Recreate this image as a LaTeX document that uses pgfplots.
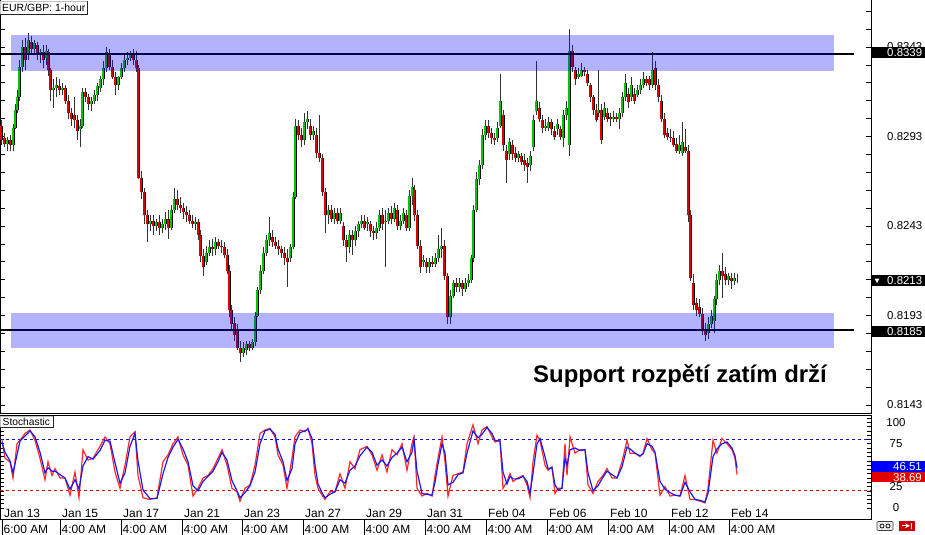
\documentclass[border=0pt]{standalone}
\usepackage{fontspec}
\setmainfont{Liberation Sans}
\usepackage{pgfplots}
\usepackage{pgfplotstable}
\pgfplotsset{compat=1.18}
\definecolor{upg}{RGB}{0,200,0}
\definecolor{dnr}{RGB}{225,0,0}
\definecolor{band}{RGB}{0,0,255}
\definecolor{stred}{RGB}{255,40,40}
\definecolor{stblue}{RGB}{25,25,255}

\pgfplotstableread{
x o c h l
1 0.8299 0.8291 0.8302 0.8288
4 0.8292 0.8289 0.8295 0.8287
7 0.8289 0.8291 0.8293 0.8285
10 0.8291 0.8288 0.8294 0.8285
13 0.8288 0.8298 0.8300 0.8285
15 0.8298 0.8308 0.8311 0.8297
17 0.8308 0.8315 0.8319 0.8306
19 0.8315 0.8332 0.8336 0.8313
22 0.8332 0.8343 0.8347 0.8329
25 0.8343 0.8336 0.8348 0.8330
28 0.8339 0.8347 0.8351 0.8336
31 0.8346 0.8342 0.8349 0.8339
34 0.8342 0.8345 0.8347 0.8339
37 0.8344 0.8339 0.8346 0.8336
40 0.8339 0.8340 0.8342 0.8334
43 0.8340 0.8336 0.8344 0.8331
46 0.8337 0.8341 0.8344 0.8333
48 0.8340 0.8330 0.8342 0.8327
50 0.8330 0.8319 0.8331 0.8313
53 0.8319 0.8320 0.8325 0.8309
56 0.8320 0.8322 0.8326 0.8315
59 0.8321 0.8319 0.8325 0.8316
62 0.8319 0.8320 0.8323 0.8316
65 0.8320 0.8313 0.8322 0.8311
68 0.8313 0.8306 0.8316 0.8303
71 0.8306 0.8303 0.8309 0.8299
74 0.8305 0.8302 0.8315 0.8298
77 0.8302 0.8296 0.8305 0.8291
80 0.8297 0.8299 0.8303 0.8287
82 0.8299 0.8318 0.8320 0.8298
85 0.8318 0.8315 0.8320 0.8312
88 0.8315 0.8311 0.8317 0.8308
91 0.8311 0.8313 0.8315 0.8307
94 0.8313 0.8316 0.8319 0.8311
97 0.8316 0.8321 0.8323 0.8313
100 0.8320 0.8325 0.8327 0.8318
103 0.8325 0.8331 0.8335 0.8322
106 0.8331 0.8340 0.8343 0.8329
109 0.8339 0.8332 0.8342 0.8330
112 0.8332 0.8326 0.8336 0.8325
115 0.8326 0.8322 0.8329 0.8316
118 0.8322 0.8326 0.8327 0.8319
121 0.8326 0.8331 0.8334 0.8325
124 0.8331 0.8336 0.8339 0.8329
127 0.8336 0.8337 0.8340 0.8333
130 0.8337 0.8339 0.8341 0.8335
133 0.8339 0.8336 0.8342 0.8333
136 0.8336 0.8331 0.8341 0.8329
138 0.8331 0.8270 0.8333 0.8269
141 0.8270 0.8262 0.8274 0.8258
144 0.8262 0.8249 0.8264 0.8244
147 0.8249 0.8244 0.8252 0.8234
150 0.8244 0.8246 0.8249 0.8240
153 0.8246 0.8243 0.8249 0.8238
156 0.8243 0.8245 0.8247 0.8240
159 0.8245 0.8242 0.8249 0.8238
162 0.8242 0.8244 0.8247 0.8239
165 0.8244 0.8247 0.8251 0.8241
168 0.8247 0.8242 0.8252 0.8236
171 0.8242 0.8252 0.8255 0.8241
174 0.8252 0.8258 0.8264 0.8250
177 0.8258 0.8255 0.8263 0.8252
180 0.8255 0.8253 0.8259 0.8250
183 0.8253 0.8251 0.8256 0.8247
186 0.8251 0.8249 0.8254 0.8245
189 0.8249 0.8246 0.8252 0.8244
192 0.8246 0.8244 0.8249 0.8242
195 0.8244 0.8245 0.8248 0.8241
198 0.8245 0.8238 0.8247 0.8235
200 0.8238 0.8226 0.8241 0.8223
203 0.8226 0.8220 0.8230 0.8215
206 0.8223 0.8228 0.8232 0.8221
209 0.8228 0.8231 0.8235 0.8226
212 0.8231 0.8230 0.8236 0.8226
215 0.8230 0.8234 0.8237 0.8227
218 0.8234 0.8232 0.8236 0.8230
221 0.8232 0.8231 0.8235 0.8228
224 0.8231 0.8227 0.8234 0.8225
227 0.8227 0.8218 0.8230 0.8216
229 0.8218 0.8196 0.8221 0.8192
231 0.8196 0.8188 0.8199 0.8185
234 0.8189 0.8182 0.8192 0.8179
237 0.8185 0.8175 0.8188 0.8174
240 0.8175 0.8172 0.8179 0.8167
243 0.8172 0.8175 0.8178 0.8170
246 0.8174 0.8177 0.8179 0.8171
249 0.8177 0.8175 0.8179 0.8173
252 0.8175 0.8178 0.8180 0.8174
255 0.8178 0.8193 0.8195 0.8176
257 0.8193 0.8207 0.8209 0.8192
260 0.8207 0.8218 0.8221 0.8205
263 0.8218 0.8228 0.8231 0.8216
266 0.8228 0.8235 0.8238 0.8226
269 0.8235 0.8239 0.8248 0.8232
272 0.8237 0.8234 0.8241 0.8231
275 0.8234 0.8232 0.8237 0.8230
278 0.8232 0.8230 0.8235 0.8227
281 0.8230 0.8228 0.8232 0.8225
284 0.8228 0.8225 0.8231 0.8221
287 0.8225 0.8223 0.8230 0.8209
290 0.8225 0.8231 0.8233 0.8223
293 0.8231 0.8259 0.8262 0.8230
295 0.8259 0.8299 0.8303 0.8258
298 0.8299 0.8294 0.8302 0.8291
301 0.8294 0.8291 0.8298 0.8287
304 0.8291 0.8301 0.8306 0.8288
307 0.8301 0.8303 0.8307 0.8297
310 0.8299 0.8294 0.8303 0.8291
313 0.8294 0.8296 0.8299 0.8291
316 0.8294 0.8284 0.8298 0.8281
319 0.8284 0.8281 0.8305 0.8279
322 0.8281 0.8262 0.8283 0.8260
325 0.8262 0.8249 0.8264 0.8239
328 0.8249 0.8252 0.8255 0.8244
331 0.8252 0.8247 0.8255 0.8245
334 0.8247 0.8250 0.8253 0.8244
337 0.8250 0.8246 0.8253 0.8244
340 0.8246 0.8250 0.8253 0.8244
343 0.8243 0.8235 0.8245 0.8232
346 0.8235 0.8231 0.8238 0.8223
349 0.8231 0.8238 0.8241 0.8228
352 0.8238 0.8235 0.8241 0.8227
355 0.8235 0.8240 0.8243 0.8232
358 0.8240 0.8244 0.8246 0.8237
361 0.8244 0.8246 0.8249 0.8242
364 0.8246 0.8242 0.8249 0.8241
367 0.8244 0.8245 0.8248 0.8240
370 0.8244 0.8240 0.8246 0.8237
373 0.8240 0.8239 0.8243 0.8235
376 0.8239 0.8242 0.8245 0.8236
379 0.8242 0.8249 0.8252 0.8240
382 0.8249 0.8244 0.8253 0.8241
385 0.8245 0.8246 0.8252 0.8220
388 0.8246 0.8250 0.8253 0.8244
391 0.8250 0.8247 0.8254 0.8244
394 0.8247 0.8253 0.8256 0.8245
397 0.8252 0.8243 0.8255 0.8241
400 0.8243 0.8246 0.8249 0.8241
403 0.8246 0.8250 0.8253 0.8244
406 0.8249 0.8242 0.8252 0.8240
409 0.8242 0.8260 0.8263 0.8240
412 0.8260 0.8265 0.8270 0.8255
414 0.8263 0.8249 0.8266 0.8246
417 0.8249 0.8232 0.8252 0.8230
420 0.8232 0.8220 0.8235 0.8217
423 0.8223 0.8224 0.8227 0.8220
426 0.8223 0.8220 0.8225 0.8217
429 0.8220 0.8223 0.8225 0.8217
432 0.8223 0.8222 0.8226 0.8220
435 0.8222 0.8225 0.8228 0.8220
438 0.8225 0.8230 0.8238 0.8223
441 0.8230 0.8232 0.8242 0.8225
444 0.8232 0.8215 0.8235 0.8213
447 0.8215 0.8192 0.8217 0.8188
450 0.8192 0.8204 0.8207 0.8188
453 0.8204 0.8211 0.8213 0.8203
456 0.8211 0.8209 0.8214 0.8206
459 0.8209 0.8211 0.8214 0.8206
462 0.8211 0.8208 0.8213 0.8204
465 0.8208 0.8211 0.8214 0.8206
468 0.8211 0.8213 0.8216 0.8209
471 0.8213 0.8225 0.8227 0.8211
473 0.8225 0.8252 0.8255 0.8223
476 0.8252 0.8269 0.8273 0.8251
479 0.8269 0.8277 0.8280 0.8266
482 0.8277 0.8294 0.8297 0.8275
485 0.8294 0.8299 0.8302 0.8291
488 0.8299 0.8295 0.8302 0.8292
491 0.8295 0.8292 0.8298 0.8289
494 0.8292 0.8291 0.8295 0.8288
497 0.8292 0.8298 0.8301 0.8290
500 0.8299 0.8313 0.8328 0.8298
503 0.8305 0.8288 0.8308 0.8285
506 0.8285 0.8280 0.8288 0.8267
509 0.8283 0.8290 0.8292 0.8280
512 0.8288 0.8283 0.8291 0.8280
515 0.8284 0.8281 0.8287 0.8279
518 0.8281 0.8283 0.8285 0.8279
521 0.8282 0.8279 0.8284 0.8277
524 0.8280 0.8277 0.8283 0.8274
527 0.8278 0.8276 0.8281 0.8267
530 0.8277 0.8282 0.8285 0.8274
533 0.8287 0.8302 0.8305 0.8285
536 0.8307 0.8313 0.8335 0.8305
539 0.8309 0.8303 0.8312 0.8301
542 0.8302 0.8298 0.8305 0.8295
545 0.8298 0.8299 0.8303 0.8296
548 0.8298 0.8301 0.8304 0.8296
551 0.8301 0.8297 0.8303 0.8294
554 0.8296 0.8293 0.8299 0.8291
557 0.8297 0.8300 0.8303 0.8294
560 0.8297 0.8293 0.8299 0.8291
563 0.8292 0.8305 0.8308 0.8287
566 0.8305 0.8309 0.8313 0.8302
569 0.8288 0.8341 0.8353 0.8282
572 0.8341 0.8332 0.8344 0.8329
575 0.8330 0.8325 0.8332 0.8322
578 0.8326 0.8328 0.8331 0.8325
581 0.8327 0.8330 0.8334 0.8326
584 0.8330 0.8329 0.8332 0.8327
587 0.8328 0.8323 0.8330 0.8321
590 0.8322 0.8315 0.8323 0.8312
593 0.8315 0.8308 0.8316 0.8305
596 0.8308 0.8302 0.8311 0.8301
598 0.8306 0.8308 0.8330 0.8304
601 0.8308 0.8291 0.8311 0.8289
604 0.8304 0.8309 0.8312 0.8302
607 0.8306 0.8303 0.8309 0.8301
610 0.8304 0.8303 0.8306 0.8299
613 0.8303 0.8304 0.8307 0.8301
616 0.8304 0.8303 0.8306 0.8301
619 0.8303 0.8306 0.8309 0.8297
622 0.8306 0.8315 0.8318 0.8304
625 0.8315 0.8323 0.8328 0.8313
628 0.8317 0.8312 0.8320 0.8309
631 0.8315 0.8322 0.8326 0.8313
634 0.8317 0.8313 0.8320 0.8311
637 0.8316 0.8319 0.8322 0.8315
640 0.8319 0.8322 0.8325 0.8317
643 0.8322 0.8325 0.8329 0.8320
646 0.8325 0.8323 0.8327 0.8321
649 0.8325 0.8322 0.8327 0.8319
652 0.8322 0.8330 0.8340 0.8320
655 0.8331 0.8322 0.8335 0.8319
658 0.8322 0.8315 0.8325 0.8312
661 0.8313 0.8303 0.8316 0.8301
664 0.8303 0.8294 0.8306 0.8292
667 0.8295 0.8293 0.8298 0.8291
670 0.8293 0.8292 0.8297 0.8290
673 0.8292 0.8288 0.8296 0.8287
676 0.8289 0.8285 0.8292 0.8284
679 0.8285 0.8288 0.8294 0.8283
682 0.8284 0.8290 0.8301 0.8282
685 0.8287 0.8285 0.8297 0.8284
688 0.8285 0.8249 0.8288 0.8245
690 0.8249 0.8214 0.8252 0.8212
693 0.8211 0.8199 0.8216 0.8196
696 0.8200 0.8196 0.8203 0.8193
699 0.8198 0.8194 0.8202 0.8192
702 0.8194 0.8185 0.8197 0.8182
705 0.8185 0.8182 0.8189 0.8179
708 0.8183 0.8188 0.8192 0.8180
711 0.8188 0.8193 0.8196 0.8186
714 0.8190 0.8202 0.8204 0.8183
716 0.8202 0.8213 0.8216 0.8199
719 0.8213 0.8218 0.8221 0.8210
722 0.8218 0.8215 0.8228 0.8203
725 0.8216 0.8213 0.8220 0.8210
728 0.8213 0.8215 0.8217 0.8210
731 0.8214 0.8212 0.8217 0.8208
734 0.8212 0.8214 0.8217 0.8210
737 0.8213 0.8213 0.8216 0.8211
}\candles

\pgfplotstableread{
x k d
2 79 77
5 58 65
10 54 55
13 35 41
17 75 62
20 79 78
25 87 84
30 91 90
35 79 83
40 58 65
45 33 41
48 54 47
52 38 43
55 46 43
60 35 39
65 35 35
70 15 22
75 42 33
79 12 22
83 68 49
88 56 60
93 58 57
100 72 67
105 83 79
110 75 78
115 42 53
120 23 29
125 50 41
130 83 72
135 89 87
138 38 55
143 12 21
150 10 11
157 12 11
163 54 40
168 62 59
173 75 71
178 83 80
183 62 69
188 50 54
193 14 26
198 23 20
203 35 31
208 38 37
213 46 43
218 58 54
222 68 65
227 50 56
232 23 32
237 19 20
240 8 12
245 23 18
250 27 26
255 50 42
260 87 75
265 91 90
270 93 92
275 83 86
278 62 69
283 50 54
287 23 32
292 58 46
295 83 75
300 91 88
305 89 90
308 93 92
312 75 81
315 38 50
318 23 28
322 15 18
325 10 12
330 19 16
335 19 19
340 40 33
345 23 29
350 54 44
355 46 49
360 68 61
367 72 71
372 62 65
377 44 50
382 62 56
387 42 49
392 68 59
397 62 64
402 75 71
407 44 54
412 75 65
414 83 80
417 23 43
422 14 17
427 17 16
432 14 15
435 38 30
438 58 51
442 83 75
445 54 64
448 14 27
453 38 30
458 40 39
463 42 41
467 75 64
473 97 90
478 75 82
482 91 86
487 95 94
492 83 87
495 77 79
500 79 78
503 23 42
507 31 28
510 40 37
513 31 34
518 35 34
523 38 37
527 27 31
530 12 17
533 54 40
537 85 75
540 79 81
545 50 60
548 44 46
552 48 47
555 17 27
558 23 21
562 23 23
565 75 58
567 38 50
570 83 68
575 64 70
580 68 67
585 68 68
588 27 41
593 17 20
598 31 26
603 38 36
607 46 43
612 35 39
617 35 35
622 54 48
627 79 71
630 64 69
635 64 64
640 60 61
643 64 63
647 81 75
652 68 72
655 64 65
660 15 31
665 25 22
670 14 18
675 15 15
680 14 14
685 38 30
690 10 19
695 10 10
700 8 9
705 6 7
708 23 17
713 79 60
717 64 69
722 81 75
727 75 77
732 68 70
735 58 61
737 39 46.5
}\stoch

\begin{document}
\begin{tikzpicture}
\useasboundingbox (0,0) rectangle (925bp,-535bp);
\fill[white] (0,0) rectangle (925bp,-535bp);

% ---------- main price panel ----------
\begin{axis}[
  at={(0bp,0bp)}, anchor=north west,
  width=871bp, height=413bp, scale only axis,
  xmin=0, xmax=871, ymin=0.813853, ymax=0.836926,
  xtick=\empty,
  ytick={0.8143,0.8193,0.8243,0.8293,0.8343},
  yticklabels={0.8143,0.8193,0.8243,0.8293,0.8343},
  minor ytick={0.8153,0.8163,0.8173,0.8183,0.8203,0.8213,0.8223,0.8233,0.8253,0.8263,0.8273,0.8283,0.8303,0.8313,0.8323,0.8333,0.8353,0.8363},
  tick align=inside,
  major tick length=5bp, minor tick length=5bp,
  tick style={black, line width=0.7bp},
  yticklabel pos=right,
  yticklabel style={font=\fontsize{11.5}{13}\selectfont, anchor=west, inner sep=0pt, xshift=16bp},
  axis line style={line width=1bp},
]
% wicks
\addplot[draw=none, mark=none, forget plot,
  error bars/.cd, y dir=plus, y explicit, error mark=none,
  error bar style={draw=black!80, line width=0.9bp, line cap=butt}]
  table[x=x, y=l, y error expr={\thisrow{h}-\thisrow{l}}] {\candles};
% body outlines
\addplot[draw=none, mark=none, forget plot,
  error bars/.cd, y dir=plus, y explicit, error mark=none,
  error bar style={draw=black, line width=3bp, line cap=butt}]
  table[x=x, y expr={min(\thisrow{o},\thisrow{c})}, y error expr={abs(\thisrow{c}-\thisrow{o})}] {\candles};
% up bodies
\addplot[draw=none, mark=none, forget plot,
  restrict expr to domain={\thisrow{c}-\thisrow{o}}{0:1},
  error bars/.cd, y dir=plus, y explicit, error mark=none,
  error bar style={draw=upg, line width=1.9bp, line cap=butt}]
  table[x=x, y=o, y error expr={\thisrow{c}-\thisrow{o}}] {\candles};
% down bodies
\addplot[draw=none, mark=none, forget plot,
  restrict expr to domain={\thisrow{o}-\thisrow{c}}{0.00001:1},
  error bars/.cd, y dir=plus, y explicit, error mark=none,
  error bar style={draw=dnr, line width=1.9bp, line cap=butt}]
  table[x=x, y=c, y error expr={\thisrow{o}-\thisrow{c}}] {\candles};
% resistance / support lines
\addplot[black, line width=1.4bp] coordinates {(0,0.8339) (854,0.8339)};
\addplot[black, line width=1.4bp] coordinates {(0,0.8185) (854,0.8185)};
% bands
\fill[band, fill opacity=0.3] (axis cs:11,0.83497) rectangle (axis cs:834,0.83296);
\fill[band, fill opacity=0.3] (axis cs:11,0.81944) rectangle (axis cs:834,0.81748);
\end{axis}

% ---------- stochastic panel ----------
\begin{axis}[
  at={(0bp,-415bp)}, anchor=north west,
  width=871bp, height=104bp, scale only axis,
  xmin=0, xmax=871, ymin=-12.8, ymax=108.5,
  xtick=\empty,
  ytick={0,25,75,100},
  yticklabels={0,\raisebox{-3.5bp}{25},\raisebox{-1.5bp}{75},100},
  minor ytick={5,10,15,20,30,35,40,45,50,55,60,65,70,80,85,90,95,105},
  tick align=inside,
  major tick length=4bp, minor tick length=4bp,
  tick style={black, line width=0.6bp},
  yticklabel pos=right,
  yticklabel style={font=\fontsize{11.5}{13}\selectfont, anchor=center, inner sep=0pt, xshift=25bp},
  axis line style={line width=1bp},
]
\addplot[stblue!75!black, dash pattern=on 3bp off 3bp, line width=0.9bp] coordinates {(0,80) (871,80)};
\addplot[red!90!black, dash pattern=on 3bp off 3bp, line width=0.9bp] coordinates {(0,20) (871,20)};
\addplot[stred, line width=1.2bp] table[x=x, y=k] {\stoch};
\addplot[stblue, line width=1.2bp] table[x=x, y=d] {\stoch};
\end{axis}

% ---------- decorations in pixel coordinates ----------
\begin{scope}[x=1bp, y=-1bp]
  % title box
  \draw[fill=white, draw=gray!50, line width=0.8bp] (0.5,1.5) rectangle (87,14.5);
  \draw[gray!30!black, line width=1bp] (87,1.5) -- (87,14.5) -- (0.5,14.5);
  \node[anchor=base west, inner sep=0pt, font=\fontsize{10.5}{12}\selectfont] at (2,11.3) {EUR/GBP: 1-hour};
  % stochastic label box
  \draw[fill=white, draw=gray!50, line width=0.8bp] (0.5,416) rectangle (53,427.5);
  \draw[gray!30!black, line width=1bp] (53,416) -- (53,427.5) -- (0.5,427.5);
  \node[anchor=base west, inner sep=0pt, font=\fontsize{10.3}{12}\selectfont] at (2.5,425) {Stochastic};
  % price boxes
  \fill[black] (872,47) rectangle (925,58);
  \node[anchor=base west, inner sep=0pt, text=white, font=\fontsize{11.5}{13}\selectfont] at (887,56.5) {0.8339};
  \fill[black] (872,275) rectangle (925,286);
  \fill[white] (874.5,278.5) -- (879.5,278.5) -- (877,283) -- cycle;
  \node[anchor=base west, inner sep=0pt, text=white, font=\fontsize{11.5}{13}\selectfont] at (887,284.5) {0.8213};
  \fill[black] (872,326) rectangle (925,337);
  \node[anchor=base west, inner sep=0pt, text=white, font=\fontsize{11.5}{13}\selectfont] at (887,335.5) {0.8185};
  % stochastic value boxes
  \fill[red!90!black] (872,471.5) rectangle (925,481.5);
  \node[anchor=base east, inner sep=0pt, text=white, font=\fontsize{11.5}{13}\selectfont] at (922,481) {38.69};
  \fill[blue] (872,460.5) rectangle (925,471.5);
  \node[anchor=base east, inner sep=0pt, text=white, font=\fontsize{11.5}{13}\selectfont] at (922,470.5) {46.51};
  % annotation
  \node[anchor=base west, inner sep=0pt, font=\fontsize{24}{28}\selectfont\bfseries] at (533,382) {Support rozpětí zatím drží};
  % date / time axis
  \draw[black, line width=0.8bp] (0,519) -- (871,519);
  \foreach \sx/\dt/\tm in {2/Jan 13/6:00 AM, 60/Jan 15/4:00 AM, 121/Jan 17/4:00 AM, 182/Jan 21/4:00 AM, 242/Jan 23/4:00 AM, 303/Jan 27/4:00 AM, 364/Jan 29/4:00 AM, 425/Jan 31/4:00 AM, 486/Feb 04/4:00 AM, 547/Feb 06/4:00 AM, 608/Feb 10/4:00 AM, 669/Feb 12/4:00 AM, 729/Feb 14/4:00 AM}{
    \draw[black, line width=0.8bp] (\sx,519) -- (\sx,535);
    \node[anchor=base west, inner sep=0pt, font=\fontsize{12}{14}\selectfont] at (\sx+2,517) {\dt};
    \node[anchor=base west, inner sep=0pt, font=\fontsize{12}{14}\selectfont] at (\sx+1.5,533.5) {\tm};
  }
  % small icons bottom right
  \draw[gray!50!black, fill=gray!15, rounded corners=1bp, line width=0.6bp] (877,521.5) rectangle (893,530.5);
  \draw[black, line width=0.7bp] (882,526) circle (2);
  \draw[black, line width=0.7bp] (888,526) circle (2);
  \fill[red!80!black] (899,520.5) rectangle (915,531);
  \draw[white, line width=1.2bp, -stealth] (902,525.75) -- (910,525.75);
  \draw[white, line width=1.2bp] (911.5,522.5) -- (911.5,529);
\end{scope}
\end{tikzpicture}
\end{document}
